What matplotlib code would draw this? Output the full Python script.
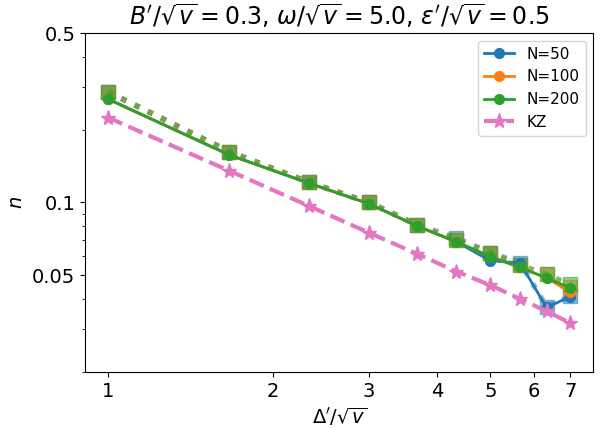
import numpy as np
import matplotlib
matplotlib.use("Agg")
import matplotlib.pyplot as plt
from matplotlib.ticker import FixedLocator, NullFormatter

# x grid (Delta'/sqrt v)
x = [1.0, 1.667, 2.333, 3.0, 3.667, 4.333, 5.0, 5.667, 6.333, 7.0]

# solid lines with circles
n50 = [0.267, 0.157, 0.120, 0.0988, 0.0801, 0.0688, 0.0575, 0.0563, 0.0369, 0.0409]
n100 = [0.267, 0.157, 0.120, 0.0988, 0.0801, 0.0688, 0.0598, 0.054, 0.0488, 0.0426]
n200 = [0.267, 0.157, 0.120, 0.0988, 0.0801, 0.0688, 0.0598, 0.054, 0.0488, 0.0444]

# dotted lines with translucent squares
sq50 = [0.286, 0.162, 0.121, 0.100, 0.081, 0.0714, 0.062, 0.0565, 0.0372, 0.041]
sq100 = [0.286, 0.162, 0.121, 0.100, 0.081, 0.070, 0.062, 0.055, 0.0505, 0.045]
sq200 = [0.286, 0.162, 0.121, 0.100, 0.081, 0.070, 0.062, 0.055, 0.0505, 0.046]

kz = [0.224, 0.135, 0.0966, 0.075, 0.0615, 0.0519, 0.0456, 0.040, 0.0356, 0.0318]

colors = ["tab:blue", "tab:orange", "tab:green"]

fig = plt.figure(figsize=(6.01, 4.29), dpi=100)
ax = fig.add_axes([0.1414, 0.133, 0.846, 0.79])

for ys, c in zip([sq50, sq100, sq200], colors):
    ax.plot(x, ys, ":", color=c, marker="s", ms=10, lw=4, alpha=0.5)

for ys, c, lab in zip([n50, n100, n200], colors, ["N=50", "N=100", "N=200"]):
    ax.plot(x, ys, "-o", color=c, lw=2, ms=7, label=lab)

ax.plot(x, kz, "--*", color="tab:pink", lw=3, ms=11, label="KZ")

ax.set_xscale("log")
ax.set_yscale("log")
ax.set_ylim(0.02, 0.5)
ax.xaxis.set_major_locator(FixedLocator([1, 2, 3, 4, 5, 6, 7]))
ax.set_xticklabels(["1", "2", "3", "4", "5", "6", "7"])
ax.xaxis.set_minor_formatter(NullFormatter())
ax.xaxis.set_minor_locator(FixedLocator([]))
ax.yaxis.set_major_locator(FixedLocator([0.05, 0.1, 0.5]))
ax.set_yticklabels(["0.05", "0.1", "0.5"])
ax.yaxis.set_minor_formatter(NullFormatter())
ax.tick_params(labelsize=14)

ax.set_xlabel(r"$\Delta'/\sqrt{v}$", fontsize=14)
ax.set_ylabel(r"$n$", fontsize=14)
ax.set_title(r"$B'/\sqrt{v}=0.3$, $\omega/\sqrt{v}=5.0$, $\epsilon'/\sqrt{v}=0.5$", fontsize=17)
ax.legend(loc="upper right", fontsize=11)

fig.savefig("out.png", dpi=100)
